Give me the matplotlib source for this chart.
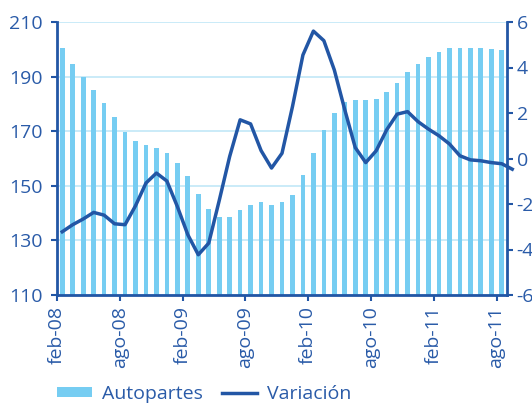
import matplotlib
matplotlib.use("Agg")
import matplotlib.pyplot as plt
from matplotlib.patches import Patch
from matplotlib.lines import Line2D

plt.rcParams['font.family'] = ['Open Sans', 'DejaVu Sans']
plt.rcParams['axes.unicode_minus'] = False

# monthly data feb-08 .. ago-11 (bars), line runs one month further
months = ["feb-08", "mar-08", "abr-08", "may-08", "jun-08", "jul-08", "ago-08", "sep-08",
          "oct-08", "nov-08", "dic-08", "ene-09", "feb-09", "mar-09", "abr-09", "may-09",
          "jun-09", "jul-09", "ago-09", "sep-09", "oct-09", "nov-09", "dic-09", "ene-10",
          "feb-10", "mar-10", "abr-10", "may-10", "jun-10", "jul-10", "ago-10", "sep-10",
          "oct-10", "nov-10", "dic-10", "ene-11", "feb-11", "mar-11", "abr-11", "may-11",
          "jun-11", "jul-11", "ago-11"]
autopartes = [200.4, 194.6, 189.9, 185.1, 180.4, 175.2, 169.8, 166.5, 164.9, 163.9,
              162.0, 158.3, 153.7, 147.1, 141.6, 138.7, 138.7, 141.2, 143.0, 143.9,
              143.0, 143.9, 146.7, 153.8, 162.1, 170.5, 176.6, 180.7, 181.5, 181.5,
              181.8, 184.4, 187.7, 191.7, 194.6, 197.2, 199.0, 200.4, 200.4, 200.4,
              200.4, 200.1, 199.8]
variacion = [-3.22, -2.91, -2.66, -2.37, -2.49, -2.87, -2.91, -2.08, -1.08, -0.64,
             -0.99, -2.11, -3.35, -4.23, -3.72, -1.85, 0.09, 1.70, 1.52, 0.35,
             -0.42, 0.23, 2.28, 4.55, 5.60, 5.18, 3.89, 2.14, 0.48, -0.18,
             0.34, 1.26, 1.95, 2.06, 1.62, 1.29, 1.00, 0.64, 0.12, -0.06,
             -0.10, -0.18, -0.23, -0.47]

BAR = "#76CDF2"
LINE = "#2256A5"
TXT = "#2A5BA8"
GRID = "#C6E9F8"

fig = plt.figure(figsize=(5.32, 4.07), dpi=100)
ax = fig.add_axes([57/532, 1 - 295/407, 450/532, 273/407])
ax2 = ax.twinx()

x = list(range(len(autopartes)))
ax.bar(x, autopartes, width=0.45, color=BAR, zorder=2)
ax.set_ylim(110, 210)
ax.set_yticks([110, 130, 150, 170, 190, 210])
ax.set_xlim(-0.5, len(autopartes) - 0.5)
ax.set_xticks([i - 0.5 for i in range(0, len(months), 6)])
ax.set_xticklabels([months[i] for i in range(0, len(months), 6)], rotation=90)
ax.grid(axis='y', color=GRID, lw=1.3, zorder=0)
ax.set_axisbelow(True)

xl = list(range(len(variacion)))
ax2.plot(xl, variacion, color=LINE, lw=2.5, clip_on=False, zorder=5)
ax2.set_ylim(-6, 6)
ax2.set_yticks([-6, -4, -2, 0, 2, 4, 6])
ax2.set_xlim(-0.5, len(autopartes) - 0.5)

for a in (ax, ax2):
    a.spines['top'].set_visible(False)
    for s in ('left', 'right', 'bottom'):
        a.spines[s].set_color(LINE)
        a.spines[s].set_linewidth(2)
ax.spines['right'].set_visible(False)
ax2.spines['left'].set_visible(False)
ax2.spines['bottom'].set_visible(False)

ax.tick_params(axis='y', colors=LINE, labelcolor=TXT, labelsize=14, length=4, width=1.5, pad=6)
ax.tick_params(axis='x', colors=LINE, labelcolor=TXT, labelsize=14, length=4, width=1.5, pad=4)
ax2.tick_params(axis='y', colors=LINE, labelcolor=TXT, labelsize=14, length=4, width=1.5, pad=3)

handles = [Patch(facecolor=BAR, edgecolor='none'), Line2D([], [], color=LINE, lw=2.5)]
fig.legend(handles, ["Autopartes", "Variación"], loc='center left',
           bbox_to_anchor=(57/532, 1 - 394/407), ncol=2, frameon=False,
           fontsize=14, labelcolor=TXT, handlelength=1.8, handleheight=0.45,
           handletextpad=0.5, columnspacing=1.0, borderpad=0, borderaxespad=0)

fig.savefig("out.png", dpi=100)
